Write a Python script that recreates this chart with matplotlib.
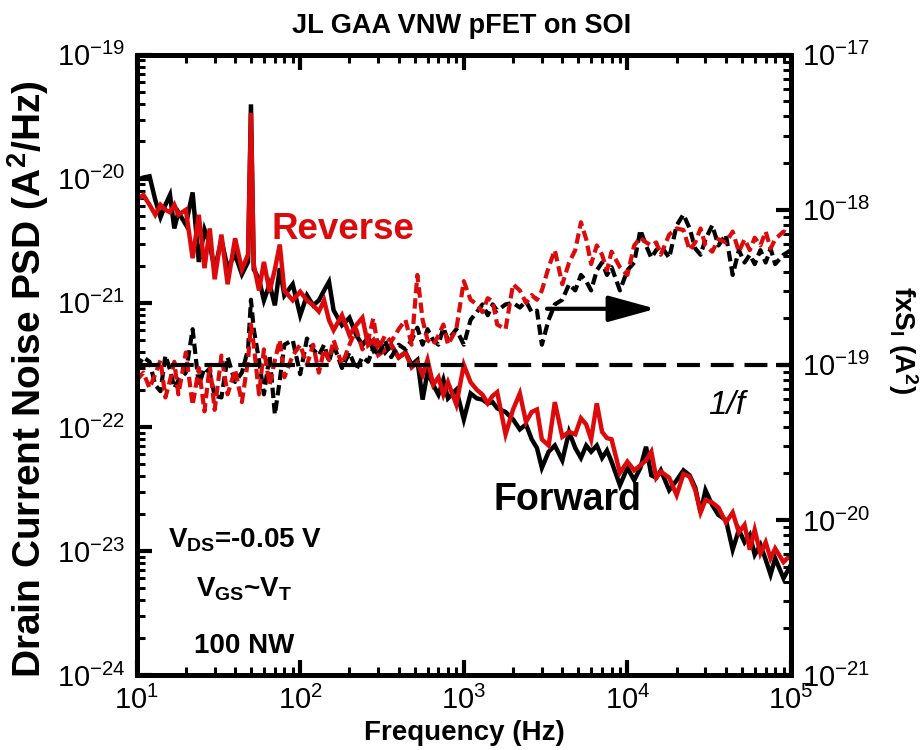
import numpy as np
import matplotlib.pyplot as plt

plt.rcParams['font.family'] = ['Liberation Sans', 'DejaVu Sans']
plt.rcParams['mathtext.fontset'] = 'custom'
plt.rcParams['mathtext.rm'] = 'Liberation Sans'
plt.rcParams['mathtext.it'] = 'Liberation Sans:italic'
plt.rcParams['mathtext.bf'] = 'Liberation Sans:bold'
plt.rcParams['axes.unicode_minus'] = False

# frequency points (Hz)
freq = [10, 11, 12, 13, 14, 15, 16, 17, 18, 20, 22, 24, 26, 28, 30, 33, 36, 40, 44, 48,
        50, 52, 56, 60, 65, 70, 75, 80, 90, 100, 110, 120, 130, 140, 150, 160, 180, 200,
        220, 240, 260, 280, 300, 330, 360, 400, 440, 480, 520, 560, 600, 650, 700, 750,
        800, 900, 1000, 1100, 1200, 1300, 1400, 1500, 1600, 1800, 2000, 2200, 2400, 2600,
        2800, 3000, 3300, 3600, 4000, 4400, 4800, 5200, 5600, 6000, 6500, 7000, 7500, 8000,
        9000, 10000, 11000, 12000, 13000, 14000, 15000, 16000, 18000, 20000, 22000, 24000,
        26000, 28000, 30000, 33000, 36000, 40000, 44000, 48000, 52000, 56000, 60000, 65000,
        70000, 75000, 80000, 90000, 100000]

# log10 of drain current noise PSD S_I (A^2/Hz), left axis
fwd_psd_log = [-20.01, -19.99, -19.98, -20.17, -20.31, -20.21, -20.13, -20.40, -20.27, -20.37,
               -20.11, -20.67, -20.41, -20.53, -20.73, -20.49, -20.72, -20.61, -20.77, -20.67,
               -19.40, -20.73, -20.81, -20.98, -20.85, -21.02, -20.72, -20.94, -20.85, -21.10,
               -20.94, -21.02, -20.98, -20.90, -20.83, -21.06, -21.18, -21.12, -21.26, -21.34,
               -21.28, -21.38, -21.32, -21.40, -21.34, -21.44, -21.40, -21.50, -21.46, -21.78,
               -21.56, -21.66, -21.74, -21.62, -21.77, -21.70, -21.94, -21.73, -21.77, -21.78,
               -21.81, -21.80, -21.85, -21.88, -21.94, -22.02, -21.98, -22.10, -22.17, -22.33,
               -22.20, -22.15, -22.27, -22.04, -22.17, -22.25, -22.15, -22.20, -22.15, -22.25,
               -22.19, -22.28, -22.47, -22.33, -22.43, -22.33, -22.16, -22.39, -22.41, -22.35,
               -22.51, -22.43, -22.35, -22.39, -22.49, -22.69, -22.51, -22.63, -22.71, -22.75,
               -22.99, -22.83, -22.93, -22.87, -23.03, -22.95, -23.07, -23.19, -23.06, -23.22,
               -23.11]
rev_psd_log = [-20.17, -20.13, -20.21, -20.29, -20.21, -20.25, -20.27, -20.21, -20.29, -20.25,
               -20.64, -20.29, -20.72, -20.40, -20.81, -20.45, -20.85, -20.48, -20.73, -20.61,
               -19.47, -20.69, -20.90, -20.67, -20.91, -20.73, -20.53, -20.90, -20.98, -20.91,
               -20.98, -21.02, -21.07, -20.98, -21.14, -21.22, -21.10, -21.26, -21.18, -21.12,
               -21.34, -21.30, -21.42, -21.38, -21.34, -21.44, -21.40, -21.52, -21.48, -21.58,
               -21.46, -21.66, -21.60, -21.74, -21.64, -21.82, -21.50, -21.64, -21.70, -21.74,
               -21.81, -21.75, -21.72, -22.06, -21.86, -21.73, -21.96, -21.88, -21.86, -22.10,
               -22.15, -21.80, -22.08, -22.04, -22.06, -21.93, -21.98, -22.10, -21.81, -22.04,
               -22.09, -22.10, -22.37, -22.28, -22.35, -22.31, -22.27, -22.20, -22.41, -22.36,
               -22.41, -22.55, -22.38, -22.40, -22.51, -22.69, -22.59, -22.61, -22.65, -22.77,
               -22.69, -22.85, -22.79, -22.99, -22.83, -23.02, -22.93, -23.06, -22.98, -23.09,
               -23.03]

# log10 of f x S_I (A^2), right axis
fwd_fs_log = [-19.02, -18.95, -18.98, -19.13, -19.17, -18.94, -19.03, -19.15, -19.10, -19.05,
              -18.77, -19.13, -19.02, -19.05, -19.20, -19.21, -18.95, -19.11, -19.05, -18.90,
              -18.58, -18.77, -18.97, -19.19, -18.94, -19.32, -19.10, -18.87, -18.84, -19.06,
              -18.83, -18.90, -18.94, -18.87, -18.98, -18.87, -19.02, -18.92, -19.03, -18.95,
              -18.98, -18.89, -18.94, -18.84, -18.95, -18.87, -18.90, -18.84, -18.76, -18.87,
              -18.77, -18.84, -18.87, -18.76, -18.84, -18.77, -18.87, -18.71, -18.66, -18.61,
              -18.68, -18.61, -18.65, -18.61, -18.60, -18.63, -18.59, -18.66, -18.65, -18.87,
              -18.71, -18.61, -18.58, -18.48, -18.52, -18.42, -18.46, -18.52, -18.39, -18.34,
              -18.42, -18.37, -18.52, -18.39, -18.34, -18.13, -18.23, -18.31, -18.26, -18.23,
              -18.31, -18.10, -18.03, -18.12, -18.25, -18.29, -18.19, -18.10, -18.23, -18.16,
              -18.42, -18.26, -18.34, -18.29, -18.35, -18.26, -18.34, -18.25, -18.35, -18.29,
              -18.26]
rev_fs_log = [-19.10, -19.05, -19.15, -19.06, -18.97, -19.21, -19.10, -18.98, -19.19, -18.92,
              -19.26, -19.02, -19.30, -19.00, -19.29, -18.94, -19.19, -19.03, -19.24, -18.97,
              -18.74, -18.87, -19.19, -18.90, -19.13, -18.97, -18.84, -19.08, -18.94, -18.87,
              -19.00, -18.87, -19.05, -18.90, -18.97, -18.84, -19.00, -18.87, -18.77, -18.90,
              -18.84, -18.70, -18.90, -18.81, -18.85, -18.77, -18.71, -18.87, -18.42, -18.71,
              -18.84, -18.87, -18.81, -18.74, -18.87, -18.77, -18.46, -18.58, -18.61, -18.66,
              -18.57, -18.59, -18.74, -18.77, -18.48, -18.52, -18.60, -18.55, -18.58, -18.52,
              -18.37, -18.26, -18.48, -18.34, -18.26, -18.08, -18.19, -18.35, -18.23, -18.29,
              -18.39, -18.27, -18.37, -18.42, -18.23, -18.18, -18.21, -18.23, -18.21, -18.29,
              -18.16, -18.12, -18.13, -18.26, -18.21, -18.12, -18.23, -18.27, -18.19, -18.21,
              -18.14, -18.27, -18.19, -18.26, -18.18, -18.23, -18.14, -18.25, -18.19, -18.14,
              -18.16]

ref_level = 1e-19          # 1/f reference on the fxS axis
arrow_from = (3100, 2.3e-19)
arrow_to = (15500, 2.3e-19)

RED = '#dc0a0a'

f = np.array(freq, dtype=float)

fig = plt.figure(figsize=(9.23, 7.5), dpi=100)
ax = fig.add_axes([0.148, 0.1, 0.709, 0.827])
ax2 = ax.twinx()

ax.plot(f, 10.0 ** np.array(fwd_psd_log), color='black', lw=3.2, solid_joinstyle='miter')
ax.plot(f, 10.0 ** np.array(rev_psd_log), color=RED, lw=3.2, solid_joinstyle='miter')

ax2.plot(f, 10.0 ** np.array(fwd_fs_log), color='black', lw=3, ls=(0, (2.5, 1.2)))
ax2.plot(f, 10.0 ** np.array(rev_fs_log), color=RED, lw=3, ls=(0, (2.5, 1.2)))
ax2.axhline(ref_level, color='black', lw=3, ls=(0, (5.5, 2.6)))
ax2.annotate('', xy=arrow_to, xytext=arrow_from,
             arrowprops=dict(arrowstyle='-|>,head_length=1.45,head_width=0.4',
                             mutation_scale=20, lw=3, color='black'))

ax.set_xscale('log')
ax.set_yscale('log')
ax2.set_yscale('log')
ax.set_xlim(10, 1e5)
ax.set_ylim(1e-24, 1e-19)
ax2.set_ylim(1e-21, 1e-17)

for a in (ax, ax2):
    for s in a.spines.values():
        s.set_linewidth(3.5)
ax.tick_params(which='both', direction='in', top=True, right=False, labelsize=21, pad=8)
ax.tick_params(which='major', length=11, width=3)
ax.tick_params(which='minor', length=6, width=2.2)
ax2.tick_params(which='both', direction='in', labelsize=21, pad=8)
ax2.tick_params(which='major', length=11, width=3)
ax2.tick_params(which='minor', length=6, width=2.2)

ax.text(0.315, 0.718, 'Reverse', transform=ax.transAxes, color=RED, fontsize=26.5,
        fontweight='bold', ha='center', va='center')
ax.text(0.659, 0.282, 'Forward', transform=ax.transAxes, color='black', fontsize=27,
        fontweight='bold', ha='center', va='center')
ax.text(0.902, 0.435, '1/f', transform=ax.transAxes, fontsize=24, style='italic',
        ha='center', va='center')
ax.text(0.165, 0.205, r'V$_\mathbf{DS}$=-0.05 V', transform=ax.transAxes, fontsize=20,
        fontweight='bold', ha='center', va='baseline')
ax.text(0.165, 0.126, r'V$_\mathbf{GS}$~V$_\mathbf{T}$', transform=ax.transAxes, fontsize=20,
        fontweight='bold', ha='center', va='baseline')
ax.text(0.165, 0.035, '100 NW', transform=ax.transAxes, fontsize=20,
        fontweight='bold', ha='center', va='baseline')

fig.text(0.5005, 0.956, 'JL GAA VNW pFET on SOI', fontsize=19.5, fontweight='bold',
         ha='center', va='baseline')
fig.text(0.503, 0.023, 'Frequency (Hz)', fontsize=20, fontweight='bold',
         ha='center', va='center')
fig.text(0.030, 0.495, r'Drain Current Noise PSD (A$^\mathbf{2}$/Hz)', fontsize=28,
         fontweight='bold', rotation=90, ha='center', va='center')
fig.text(0.978, 0.547, r'fxS$_\mathbf{I}$ (A$^\mathbf{2}$)', fontsize=20,
         fontweight='bold', rotation=-90, ha='center', va='center')

fig.savefig('out.png', dpi=100)
